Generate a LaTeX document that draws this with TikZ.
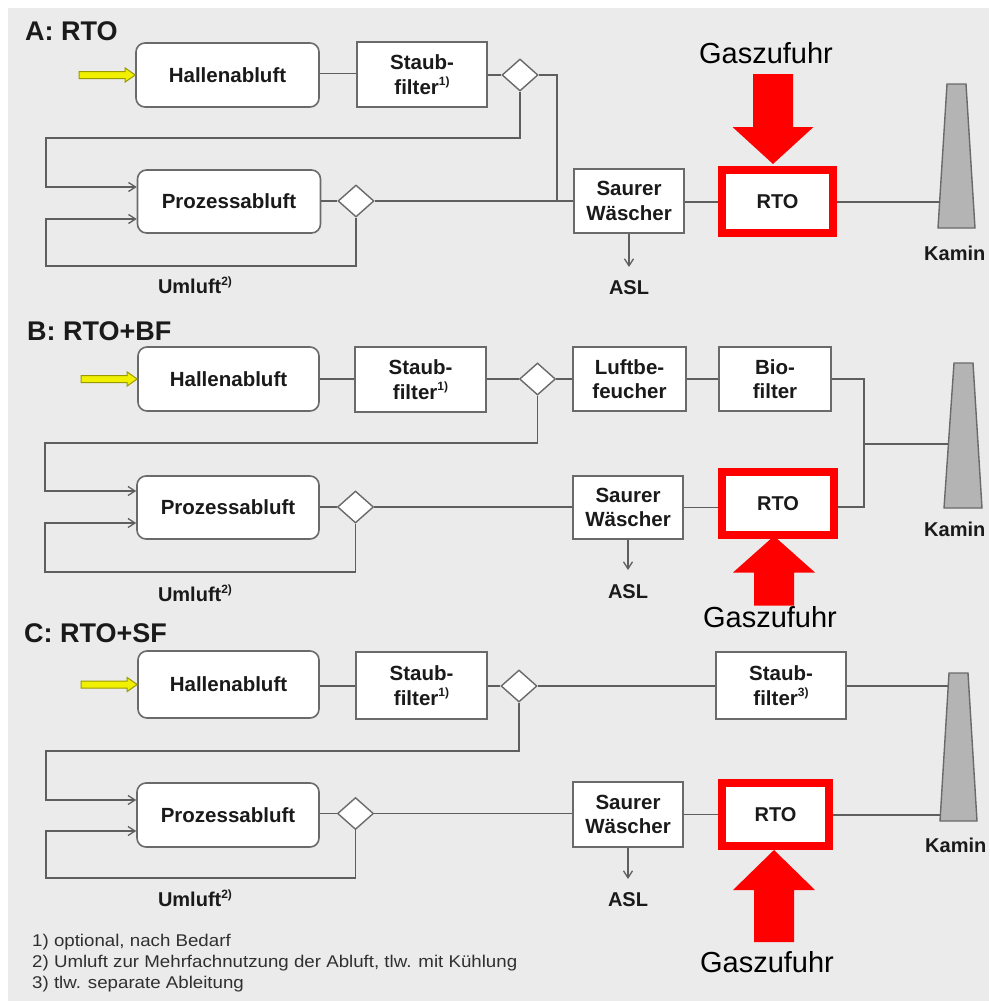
\documentclass[tikz,border=0pt]{standalone}
\usepackage{fontspec}
\setmainfont{Liberation Sans}
\usetikzlibrary{shapes.geometric,arrows.meta,patterns}
\definecolor{bgc}{HTML}{ECECEC}
\definecolor{lnc}{HTML}{5E5E5E}
\definecolor{boxc}{HTML}{6A6A6A}
\definecolor{txc}{HTML}{1A1A1A}
\definecolor{ylw}{HTML}{F0F000}
\definecolor{ylwd}{HTML}{9A9A00}
\definecolor{chim}{HTML}{B4B4B4}
\definecolor{fnc}{HTML}{303030}
\newcommand{\fnmark}[1]{\raisebox{0.42em}{\fontsize{12}{12}\selectfont #1}}
\tikzset{
  box/.style={draw=boxc, line width=1.6pt, fill=white, inner sep=0pt, align=center,
    text=txc, font=\fontsize{20.5}{24.5}\selectfont\bfseries},
  rbox/.style={box, rounded corners=9pt},
  dia/.style={draw=boxc, line width=1.4pt, fill=white, diamond, inner sep=0pt,
    minimum width=36pt, minimum height=32pt},
  rtobox/.style={draw=red, line width=8pt, fill=white, inner sep=0pt, text=txc,
    font=\fontsize{20}{24}\selectfont\bfseries},
  conn/.style={draw=lnc, line width=1.6pt},
  arr/.style={conn, -{Straight Barb[length=7pt,width=9pt,line width=1.3pt]}},
  lbl/.style={text=txc, inner sep=0pt, font=\fontsize{20}{24}\selectfont\bfseries},
  ttl/.style={text=txc, inner sep=0pt, anchor=west, font=\fontsize{27}{30}\selectfont\bfseries},
  gas/.style={text=black, inner sep=0pt, font=\fontsize{29}{32}\selectfont},
  fn/.style={text=fnc, inner sep=0pt, anchor=west, font=\fontsize{17}{20}\selectfont},
  yarr/.style={fill=ylw, draw=ylwd, line width=1pt, line join=miter},
  rarr/.style={fill=red, draw=none},
  chimney/.style={fill=chim, draw=boxc, line width=1.4pt, line join=miter}
}
\begin{document}
\begin{tikzpicture}[x=1pt,y=-1pt]
\useasboundingbox (0,0) rectangle (989,1001);
\fill[white] (0,0) rectangle (989,1001);
\fill[bgc] (8,8) rectangle (989,1001);
\fill[pattern=north east lines, pattern color=black!8] (8,8) rectangle (989,1001);

% ================= A =================
\node[ttl] (tA) at (25,31) {A: RTO};
\node[rbox, minimum width=183pt, minimum height=64pt] (haA) at (227.5,75) {Hallenabluft};
\node[box, minimum width=130pt, minimum height=65pt] (sfA) at (422,74.5) {Staub-\\filter\fnmark{1)}};
\node[dia] (dA1) at (520,75) {};
\node[rbox, minimum width=183pt, minimum height=63pt] (pzA) at (229,201.5) {Prozessabluft};
\node[dia] (dA2) at (356,201) {};
\node[box, minimum width=110pt, minimum height=64pt] (swA) at (629,201) {Saurer\\Wäscher};
\node[rtobox, minimum width=111pt, minimum height=63pt] (rtoA) at (777.5,201.5) {RTO};
\node[lbl] (aslA) at (629,288) {ASL};
\node[lbl] (uA) at (195,285) {Umluft\fnmark{2)}};
\node[gas] (gA) at (766,53) {Gaszufuhr};
\node[lbl, anchor=west] (kA) at (924,253) {Kamin};
\draw[chimney] (947,84) -- (966,84) -- (975,228) -- (938,228) -- cycle;
\coordinate (kinA) at (939.6,202);
\coordinate (jA) at (557,201);

\draw[yarr, shift={(haA.west)}] (-56,-3.5) -- (-10,-3.5) -- (-10,-7) -- (0,0) -- (-10,7) -- (-10,3.5) -- (-56,3.5) -- cycle;
\draw[rarr, shift={(rtoA.north)}] (-4.5,-2) -- (36,-39) -- (15.5,-39) -- (15.5,-92) -- (-24.5,-92) -- (-24.5,-39) -- (-45,-39) -- cycle;

\draw[conn] (haA.east |- 0,73.5) -- (sfA.west |- 0,73.5);
\draw[conn] (sfA.east |- dA1.west) -- (dA1.west);
\draw[conn] (dA1.east) -- (jA |- dA1.east) -- (jA);
\draw[arr] (dA1.south) -- (520,138) -- (46,138) -- (46,187) -- (pzA.west |- 0,187);
\draw[conn] (pzA.east |- dA2.west) -- (dA2.west);
\draw[conn] (dA2.east) -- (swA.west |- dA2.east);
\draw[arr] (dA2.south) -- (356,266) -- (46,266) -- (46,219) -- (pzA.west |- 0,219);
\draw[conn] (swA.east |- 0,202) -- (rtoA.west |- 0,202);
\draw[conn] (rtoA.east |- 0,202) -- (kinA);
\draw[arr] (swA.south) -- (swA.south |- 0,267);

% ================= B =================
\node[ttl] (tB) at (27,331) {B: RTO+BF};
\node[rbox, minimum width=181pt, minimum height=64pt] (haB) at (228.5,379) {Hallenabluft};
\node[box, minimum width=131pt, minimum height=65pt] (sfB) at (420.5,379.5) {Staub-\\filter\fnmark{1)}};
\node[dia] (dB1) at (537.5,379) {};
\node[box, minimum width=113pt, minimum height=64pt] (lbB) at (629.5,379) {Luftbe-\\feucher};
\node[box, minimum width=112pt, minimum height=64pt] (bfB) at (775,379) {Bio-\\filter};
\node[rbox, minimum width=182pt, minimum height=63pt] (pzB) at (228,507.5) {Prozessabluft};
\node[dia] (dB2) at (355.5,507) {};
\node[box, minimum width=110pt, minimum height=63pt] (swB) at (628,507.5) {Saurer\\Wäscher};
\node[rtobox, minimum width=112pt, minimum height=63pt] (rtoB) at (778,503.5) {RTO};
\node[lbl] (aslB) at (628,592) {ASL};
\node[lbl] (uB) at (195,593) {Umluft\fnmark{2)}};
\node[gas] (gB) at (770,617) {Gaszufuhr};
\node[lbl, anchor=west] (kB) at (924,529) {Kamin};
\draw[chimney] (954,363) -- (973,363) -- (982,508) -- (944,508) -- cycle;
\coordinate (kinB) at (948.4,444);
\coordinate (jB) at (864,444);

\draw[yarr, shift={(haB.west)}] (-56,-3.5) -- (-10,-3.5) -- (-10,-7) -- (0,0) -- (-10,7) -- (-10,3.5) -- (-56,3.5) -- cycle;
\draw[rarr, shift={(rtoB.south)}] (-4,-3) -- (37,33.5) -- (16,33.5) -- (16,66.5) -- (-24,66.5) -- (-24,33.5) -- (-45,33.5) -- cycle;

\draw[conn] (haB.east) -- (sfB.west |- haB.east);
\draw[conn] (sfB.east |- dB1.west) -- (dB1.west);
\draw[conn] (dB1.east) -- (lbB.west |- dB1.east);
\draw[conn] (lbB.east) -- (bfB.west);
\draw[conn] (bfB.east) -- (jB |- bfB.east) -- (jB |- 0,507) -- (rtoB.east |- 0,507);
\draw[conn] (jB) -- (kinB);
\draw[arr] (dB1.south) -- (537.5,443) -- (45,443) -- (45,491) -- (pzB.west |- 0,491);
\draw[conn] (pzB.east |- dB2.west) -- (dB2.west);
\draw[conn] (dB2.east) -- (swB.west |- dB2.east);
\draw[arr] (dB2.south) -- (355.5,572) -- (45,572) -- (45,523) -- (pzB.west |- 0,523);
\draw[conn] (swB.east |- 0,507.5) -- (rtoB.west |- 0,507.5);
\draw[arr] (swB.south) -- (swB.south |- 0,570);

% ================= C =================
\node[ttl] (tC) at (24,633) {C: RTO+SF};
\node[rbox, minimum width=181pt, minimum height=67pt] (haC) at (228.5,684.5) {Hallenabluft};
\node[box, minimum width=131pt, minimum height=67pt] (sfC) at (421.5,685.5) {Staub-\\filter\fnmark{1)}};
\node[dia] (dC1) at (519,686) {};
\node[box, minimum width=130pt, minimum height=67pt] (sf3C) at (781,685.5) {Staub-\\filter\fnmark{3)}};
\node[rbox, minimum width=182pt, minimum height=64pt] (pzC) at (228,815) {Prozessabluft};
\node[dia] (dC2) at (355.5,813.5) {};
\node[box, minimum width=110pt, minimum height=65pt] (swC) at (628,814.5) {Saurer\\Wäscher};
\node[rtobox, minimum width=107pt, minimum height=63pt] (rtoC) at (775.5,814.5) {RTO};
\node[lbl] (aslC) at (628,900) {ASL};
\node[lbl] (uC) at (195,898) {Umluft\fnmark{2)}};
\node[gas] (gC) at (767,962) {Gaszufuhr};
\node[lbl, anchor=west] (kC) at (925,845) {Kamin};
\draw[chimney] (949,673) -- (968,673) -- (977,821) -- (940,821) -- cycle;
\coordinate (kinC1) at (948.2,686);
\coordinate (kinC2) at (940.4,815);

\draw[yarr, shift={(haC.west)}] (-56,-3.5) -- (-10,-3.5) -- (-10,-7) -- (0,0) -- (-10,7) -- (-10,3.5) -- (-56,3.5) -- cycle;
\draw[rarr, shift={(rtoC.south)}] (-1.5,0) -- (39.5,40) -- (18.5,40) -- (18.5,92) -- (-21.5,92) -- (-21.5,40) -- (-42.5,40) -- cycle;

\draw[conn] (haC.east |- 0,686) -- (sfC.west |- 0,686);
\draw[conn] (sfC.east |- dC1.west) -- (dC1.west);
\draw[conn] (dC1.east) -- (sf3C.west |- dC1.east);
\draw[conn] (sf3C.east |- 0,686) -- (kinC1);
\draw[arr] (dC1.south) -- (519,751) -- (46,751) -- (46,800) -- (pzC.west |- 0,800);
\draw[conn] (pzC.east |- dC2.west) -- (dC2.west);
\draw[conn] (dC2.east) -- (swC.west |- dC2.east);
\draw[arr] (dC2.south) -- (355.5,878) -- (46,878) -- (46,831) -- (pzC.west |- 0,831);
\draw[conn] (swC.east |- 0,814.5) -- (rtoC.west |- 0,814.5);
\draw[conn] (rtoC.east |- 0,815) -- (kinC2);
\draw[arr] (swC.south) -- (swC.south |- 0,879);

% footnotes
\node[fn] (f1) at (32,942) {\scalebox{1.1}[1]{1) optional, nach Bedarf}};
\node[fn] (f2) at (32,963) {\scalebox{1.1}[1]{2) Umluft zur Mehrfachnutzung der Abluft, tlw. mit Kühlung}};
\node[fn] (f3) at (32,984) {\scalebox{1.1}[1]{3) tlw. separate Ableitung}};
\end{tikzpicture}
\end{document}
